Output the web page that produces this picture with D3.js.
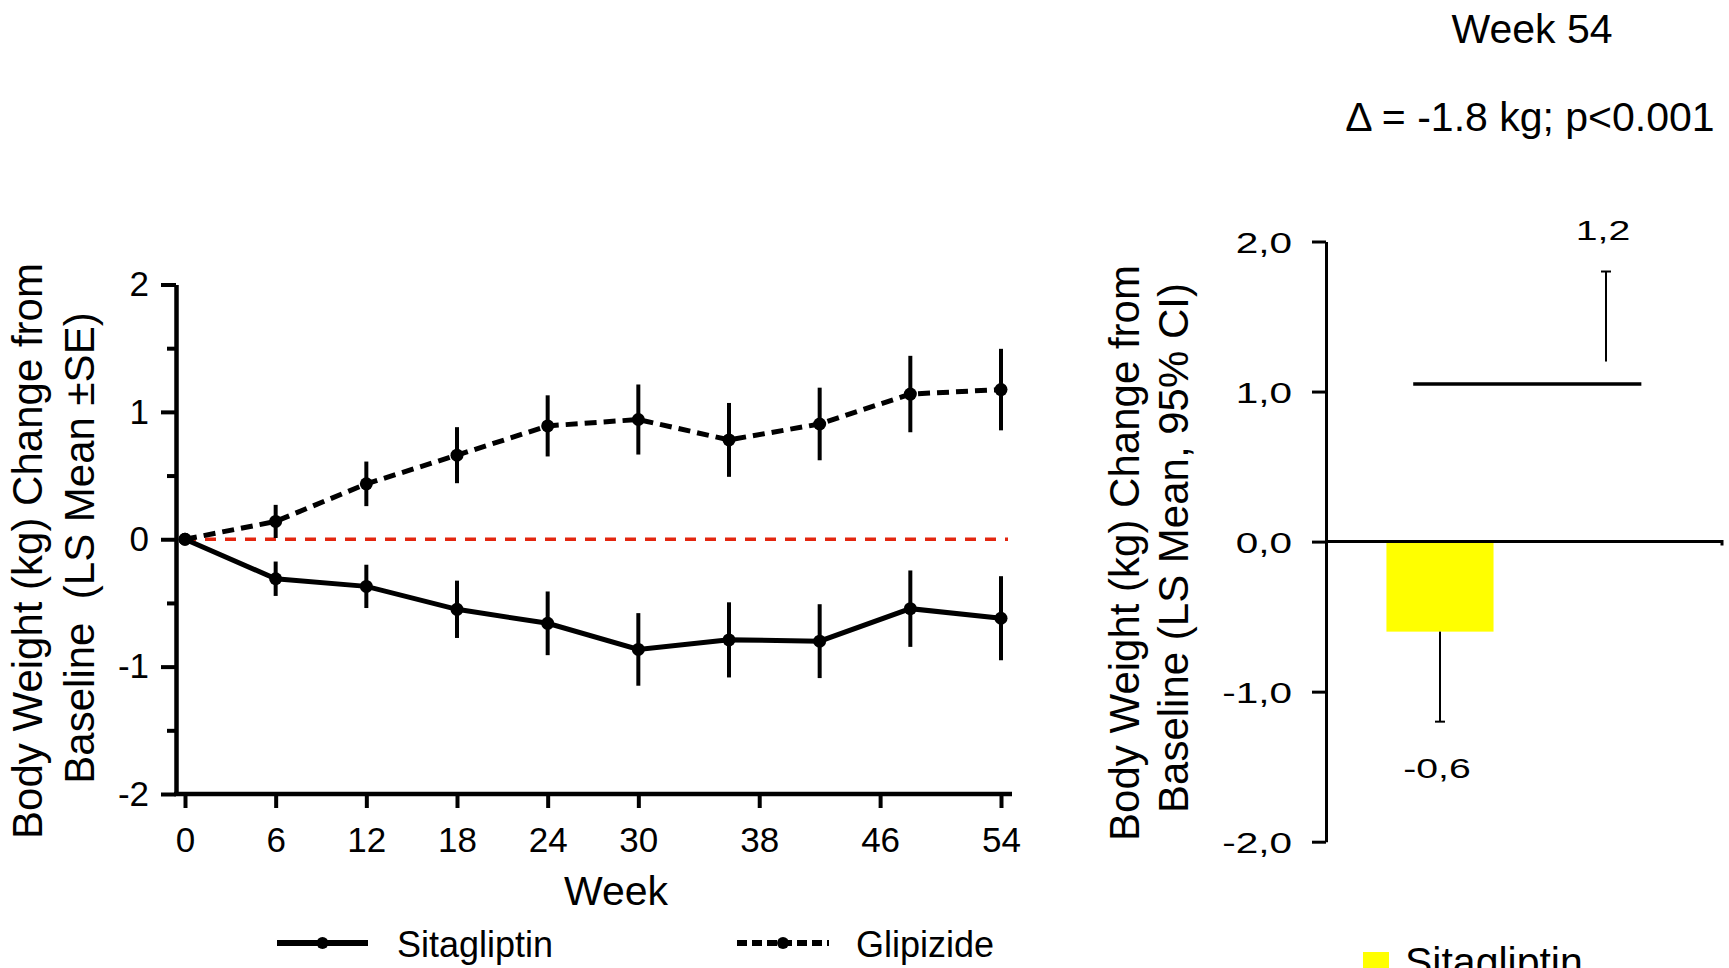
<!DOCTYPE html>
<html>
<head>
<meta charset="utf-8">
<script src="https://cdn.jsdelivr.net/npm/d3@7"></script>
<style>
  html, body { margin: 0; padding: 0; background: #fff; }
  svg { display: block; font-family: "Liberation Sans", Arial, sans-serif; }
</style>
</head>
<body>
<svg id="chart" width="1729" height="968"></svg>
<script>
// ---- Time course (LS mean ± SE) ----
const weeks = [0, 6, 12, 18, 24, 30, 36, 42, 48, 54];
const weekTicks = [0, 6, 12, 18, 24, 30, 38, 46, 54];
const sitaMean = [0, -0.31, -0.37, -0.55, -0.66, -0.865, -0.79, -0.80, -0.545, -0.62];
const sitaSE   = [0, 0.135, 0.17, 0.225, 0.25, 0.285, 0.295, 0.29, 0.30, 0.33];
const glipMean = [0, 0.14, 0.435, 0.66, 0.89, 0.94, 0.78, 0.905, 1.14, 1.175];
const glipSE   = [0, 0.13, 0.175, 0.22, 0.24, 0.275, 0.29, 0.285, 0.30, 0.32];
const lineTicks = [-2, -1, 0, 1, 2];
const lineMinorTicks = [-1.5, -0.5, 0.5, 1.5];
const seriesNames = ["Sitagliptin", "Glipizide"];

// ---- Week 54 bars (LS mean, 95% CI) ----
const barGroups = ["Sitagliptin", "Glipizide"];
const barMeans  = [-0.6, 1.2];
const barCILow  = [-1.2, 0.6];
const barCIHigh = [0.0, 1.8];
const barColors = ["#ffff00", "#ffffff"];
const barTicks  = [-2, -1, 0, 1, 2];
const panelTitle = "Week 54";
const diffText = "\u0394 = -1.8 kg; p<0.001";
const bracketLevel = 1.05;

const svg = d3.select("#chart");
const FONT = '"Liberation Sans", Arial, sans-serif';
const comma = v => d3.format(".1f")(v).replace("\u2212", "-").replace(".", ",");

// =================== Left panel ===================
const axisXL = 176;
const x = d3.scaleLinear().domain([0, 54]).range([185, 1001]);
const y = d3.scaleLinear().domain([-2, 2]).range([794, 284.5]);

// zero reference
svg.append("line")
  .attr("x1", x(0)).attr("x2", x(54) + 7)
  .attr("y1", y(0)).attr("y2", y(0))
  .attr("stroke", "#e3260f").attr("stroke-width", 3.5)
  .attr("stroke-dasharray", "11,9");

// y axis (major + minor ticks)
const gyL = svg.append("g").attr("transform", `translate(${axisXL},0)`)
  .call(d3.axisLeft(y).tickValues(lineTicks).tickSize(15).tickPadding(12)
        .tickSizeOuter(0).tickFormat(d => String(d)));
gyL.select(".domain").attr("stroke-width", 4.5).attr("stroke", "#000");
gyL.selectAll(".tick line").attr("stroke-width", 4).attr("stroke", "#000");
gyL.selectAll(".tick text").attr("font-size", 35).attr("font-family", FONT).attr("fill", "#000");

const gyM = svg.append("g").attr("transform", `translate(${axisXL},0)`)
  .call(d3.axisLeft(y).tickValues(lineMinorTicks).tickSize(9).tickSizeOuter(0).tickFormat(""));
gyM.select(".domain").remove();
gyM.selectAll(".tick line").attr("stroke-width", 4).attr("stroke", "#000");

// x axis
svg.append("line")
  .attr("x1", axisXL - 2).attr("x2", x(54) + 11)
  .attr("y1", y(-2)).attr("y2", y(-2))
  .attr("stroke", "#000").attr("stroke-width", 4.5);
const gxL = svg.append("g").attr("transform", `translate(0,${y(-2)})`)
  .call(d3.axisBottom(x).tickValues(weekTicks).tickSize(14).tickPadding(19)
        .tickFormat(d => String(d)));
gxL.select(".domain").remove();
gxL.selectAll(".tick line").attr("stroke-width", 4).attr("stroke", "#000");
gxL.selectAll(".tick text").attr("font-size", 35).attr("font-family", FONT).attr("fill", "#000");

svg.append("text").attr("x", 616).attr("y", 905)
  .attr("text-anchor", "middle").attr("font-size", 41).text("Week");

// y title
svg.append("text").attr("transform", "translate(42,551) rotate(-90)")
  .attr("text-anchor", "middle").attr("font-size", 42)
  .text("Body Weight (kg) Change from");
svg.append("text").attr("transform", "translate(94,548) rotate(-90)")
  .attr("text-anchor", "middle").attr("font-size", 42).style("white-space", "pre")
  .text("Baseline  (LS Mean \u00B1SE)");

// series: error bars, connecting line, markers
const series = [
  { name: seriesNames[0], mean: sitaMean, se: sitaSE, dash: null },
  { name: seriesNames[1], mean: glipMean, se: glipSE, dash: "12,7" }
];
const line = d3.line().x((d, i) => x(weeks[i])).y(d => y(d));

series.forEach(s => {
  const g = svg.append("g");
  const pts = s.mean.map((m, i) => ({ wk: weeks[i], m, se: s.se[i] }));
  g.selectAll("line").data(pts.filter(p => p.se > 0)).join("line")
    .attr("x1", p => x(p.wk)).attr("x2", p => x(p.wk))
    .attr("y1", p => y(p.m - p.se)).attr("y2", p => y(p.m + p.se))
    .attr("stroke", "#000").attr("stroke-width", 4);
  g.append("path").datum(s.mean).attr("d", line)
    .attr("fill", "none").attr("stroke", "#000").attr("stroke-width", 5)
    .attr("stroke-dasharray", s.dash);
  g.selectAll("circle").data(pts).join("circle")
    .attr("cx", p => x(p.wk)).attr("cy", p => y(p.m))
    .attr("r", 6.5).attr("fill", "#000");
});

// legend
const legL = [
  { name: seriesNames[0], x0: 277, x1: 368, tx: 397, dash: null },
  { name: seriesNames[1], x0: 737, x1: 829, tx: 856, dash: "10,5" }
];
legL.forEach(l => {
  svg.append("line").attr("x1", l.x0).attr("x2", l.x1).attr("y1", 943).attr("y2", 943)
    .attr("stroke", "#000").attr("stroke-width", 6).attr("stroke-dasharray", l.dash);
  svg.append("circle").attr("cx", (l.x0 + l.x1) / 2).attr("cy", 943).attr("r", 6).attr("fill", "#000");
  svg.append("text").attr("x", l.tx).attr("y", 957).attr("font-size", 36).text(l.name);
});

// =================== Right panel ===================
const axisXR = 1326;
const yR = d3.scaleLinear().domain([-2, 2]).range([841.7, 241.5]);
const xB = d3.scaleBand().domain(barGroups).range([1326, 1720])
  .paddingInner(0.355).paddingOuter(0.364);
const bw = xB.bandwidth();

svg.append("text").attr("x", 1532).attr("y", 43)
  .attr("text-anchor", "middle").attr("font-size", 41).text(panelTitle);
svg.append("text").attr("x", 1530).attr("y", 131)
  .attr("text-anchor", "middle").attr("font-size", 41).text(diffText);

// bars
svg.selectAll("rect.bar").data(barGroups).join("rect").attr("class", "bar")
  .attr("x", d => xB(d)).attr("width", bw)
  .attr("y", (d, i) => yR(Math.max(0, barMeans[i])))
  .attr("height", (d, i) => Math.abs(yR(barMeans[i]) - yR(0)))
  .attr("fill", (d, i) => barColors[i]);

// outward half of each 95% CI, with the mean written beyond it
barGroups.forEach((g, i) => {
  const cx = xB(g) + bw / 2;
  const end = barMeans[i] < 0 ? barCILow[i] : barCIHigh[i];
  svg.append("line").attr("x1", cx).attr("x2", cx)
    .attr("y1", yR(barMeans[i])).attr("y2", yR(end))
    .attr("stroke", "#000").attr("stroke-width", 2);
  svg.append("line").attr("x1", cx - 5).attr("x2", cx + 5)
    .attr("y1", yR(end)).attr("y2", yR(end))
    .attr("stroke", "#000").attr("stroke-width", 2);
  const ly = barMeans[i] < 0 ? yR(end) + 56 : yR(end) - 32;
  svg.append("text").attr("transform", `translate(${cx - 3},${ly}) scale(1.4,1)`)
    .attr("text-anchor", "middle").attr("font-size", 28).text(comma(barMeans[i]));
});

// comparison bracket
svg.append("line")
  .attr("x1", xB(barGroups[0]) + 0.25 * bw).attr("x2", xB(barGroups[1]) + 0.83 * bw)
  .attr("y1", yR(bracketLevel)).attr("y2", yR(bracketLevel))
  .attr("stroke", "#000").attr("stroke-width", 3.5);

// zero line
svg.append("path")
  .attr("d", `M${axisXR},${yR(0)}H1722v4`)
  .attr("fill", "none").attr("stroke", "#000").attr("stroke-width", 3);

// y axis
const gyR = svg.append("g").attr("transform", `translate(${axisXR},0)`)
  .call(d3.axisLeft(yR).tickValues(barTicks).tickSize(14).tickSizeOuter(0).tickFormat(comma));
gyR.select(".domain").attr("stroke-width", 3).attr("stroke", "#000");
gyR.selectAll(".tick line").attr("stroke-width", 3).attr("stroke", "#000");
gyR.selectAll(".tick text")
  .attr("x", 0).attr("dy", "0.35em")
  .attr("transform", "translate(-34,0) scale(1.35,1)")
  .attr("font-size", 30).attr("font-family", FONT).attr("fill", "#000");

// y title
svg.append("text").attr("transform", "translate(1139,553) rotate(-90)")
  .attr("text-anchor", "middle").attr("font-size", 42)
  .text("Body Weight (kg) Change from");
svg.append("text").attr("transform", "translate(1188,548) rotate(-90)")
  .attr("text-anchor", "middle").attr("font-size", 42)
  .text("Baseline (LS Mean, 95% CI)");

// legend
svg.append("rect").attr("x", 1363).attr("y", 952).attr("width", 26).attr("height", 26)
  .attr("fill", barColors[0]);
svg.append("text").attr("x", 1405).attr("y", 976).attr("font-size", 41).text(barGroups[0]);
</script>
</body>
</html>
